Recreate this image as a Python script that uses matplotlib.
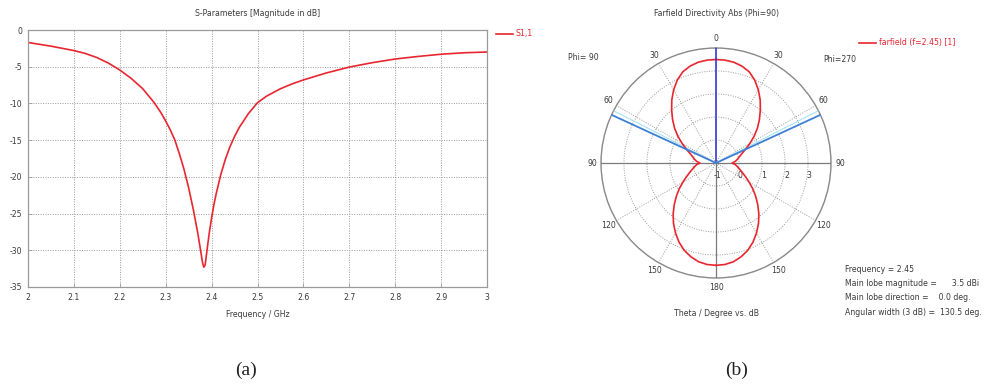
import numpy as np
import matplotlib
matplotlib.use("Agg")
import matplotlib.pyplot as plt
from matplotlib.lines import Line2D
from matplotlib.transforms import offset_copy

# S11 magnitude (dB) vs frequency (GHz)
freq_ghz = [2.00, 2.025, 2.05, 2.075, 2.10, 2.125, 2.15, 2.175, 2.20, 2.225,
            2.25, 2.275, 2.29, 2.30, 2.31, 2.32, 2.33, 2.34, 2.35, 2.36,
            2.37, 2.376, 2.38, 2.383, 2.386, 2.39, 2.395, 2.40, 2.405, 2.41,
            2.42, 2.43, 2.44, 2.45, 2.46, 2.48, 2.50, 2.52, 2.55, 2.575,
            2.60, 2.65, 2.70, 2.75, 2.80, 2.85, 2.90, 2.95, 3.00]
s11_db = [-1.7, -1.95, -2.2, -2.5, -2.8, -3.2, -3.75, -4.5, -5.45, -6.6,
          -8.0, -9.9, -11.3, -12.4, -13.6, -15.0, -16.9, -19.0, -21.5, -24.4,
          -27.7, -30.0, -31.6, -32.3, -32.0, -30.0, -27.6, -25.6, -23.8, -22.3,
          -19.7, -17.6, -15.9, -14.5, -13.3, -11.4, -9.9, -9.0, -8.0, -7.35,
          -6.8, -5.85, -5.05, -4.45, -3.95, -3.6, -3.3, -3.1, -3.0]
freq_ticks = [2, 2.1, 2.2, 2.3, 2.4, 2.5, 2.6, 2.7, 2.8, 2.9, 3]
freq_labels = ["2", "2.1", "2.2", "2.3", "2.4", "2.5", "2.6", "2.7", "2.8", "2.9", "3"]
db_ticks = [0, -5, -10, -15, -20, -25, -30, -35]

# farfield directivity cut, theta 0..180 deg (same on phi=90 and phi=270 sides)
theta_deg = [0, 5, 10, 15, 20, 25, 30, 35, 40, 45, 50, 55, 60, 65, 70, 75, 80, 85,
             90, 95, 100, 105, 110, 115, 120, 125, 130, 135, 140, 145, 150, 155,
             160, 165, 170, 175, 180]
dir_dbi = [3.50, 3.49, 3.45, 3.36, 3.22, 2.98, 2.68, 2.35, 2.00, 1.67, 1.35, 1.02,
           0.70, 0.42, 0.20, 0.05, -0.05, -0.15, -0.30, -0.15, -0.05, 0.07, 0.22,
           0.42, 0.66, 0.95, 1.25, 1.57, 1.90, 2.22, 2.52, 2.80, 3.04, 3.22, 3.36,
           3.43, 3.45]
r_ticks = [-1, 0, 1, 2, 3]
main_lobe_deg = 0.0
beam_width_deg = 130.5
theta_labels = ["0", "30", "60", "90", "120", "150", "180", "150", "120", "90", "60", "30"]

RED = "#e8262f"
GRID = "#9a9a9a"
TXT = "#3a3a3a"
FS = 5.6

fig = plt.figure(figsize=(9.92, 3.87), dpi=100)

# ---- S-parameter plot ----
ax = fig.add_axes([28 / 992, 1 - 287 / 387, 459 / 992, 257 / 387])
ax.plot(freq_ghz, s11_db, color=RED, lw=1.2)
ax.set_xlim(2, 3)
ax.set_ylim(-35, 0)
ax.set_xticks(freq_ticks)
ax.set_xticklabels(freq_labels)
ax.set_yticks(db_ticks)
ax.set_yticklabels([str(v) for v in db_ticks])
ax.grid(True, color=GRID, linestyle=(0, (1, 1.5)), lw=0.7)
for s in ax.spines.values():
    s.set_color(GRID)
    s.set_linewidth(0.9)
ax.tick_params(direction="in", length=3, width=0.6, color=GRID,
               labelsize=FS, labelcolor=TXT, pad=4)
ax.set_title("S-Parameters [Magnitude in dB]", fontsize=FS, color=TXT, pad=10)
ax.set_xlabel("Frequency / GHz", fontsize=FS, color=TXT, labelpad=6)
ax.legend([Line2D([], [], color=RED, lw=1.2)], ["S1,1"], loc="upper left",
          bbox_to_anchor=(1.005, 1.03), frameon=False, fontsize=FS,
          handlelength=2.2, handletextpad=0.3, labelcolor=RED)

# ---- farfield polar plot ----
pax = fig.add_axes([601 / 992, 1 - 278 / 387, 230 / 992, 230 / 387], projection="polar")
pax.set_theta_zero_location("N")
pax.set_theta_direction(-1)
pax.set_ylim(-1, 4)

th = np.deg2rad(theta_deg)
r = np.array(dir_dbi)
# right half = phi 270, left half = phi 90
pax.plot(th, r, color=RED, lw=1.2, zorder=5)
pax.plot(-th, r, color=RED, lw=1.2, zorder=5)

pax.set_thetagrids(np.arange(0, 360, 30), theta_labels, fontsize=FS, color=TXT)
pax.tick_params(axis="x", pad=-4)
pax.set_rgrids(r_ticks + [4], labels=[""] * 6)
pax.grid(True, color=GRID, linestyle=(0, (1, 1.5)), lw=0.7)
pax.spines["polar"].set_color("#8a8a8a")
pax.spines["polar"].set_linewidth(1.0)

# axis lines: horizontal through 90 deg and down to 180 deg
pax.plot([np.pi / 2, np.pi / 2], [-1, 4], color="#7a7a7a", lw=0.9, zorder=3)
pax.plot([-np.pi / 2, -np.pi / 2], [-1, 4], color="#7a7a7a", lw=0.9, zorder=3)
pax.plot([np.pi, np.pi], [-1, 4], color="#7a7a7a", lw=0.9, zorder=3)

# main lobe direction and 3 dB beam width markers
pax.plot([np.deg2rad(main_lobe_deg)] * 2, [-1, 4], color="#3b3bd0", lw=1.2, zorder=6)
half = np.deg2rad(beam_width_deg / 2)
for sgn in (1, -1):
    pax.plot([sgn * (half - 0.04)] * 2, [-1, 4], color="#a8e4f0", lw=0.8, zorder=4)
    pax.plot([sgn * half] * 2, [-1, 4], color="#3f7fd6", lw=1.3, zorder=6)

# radial labels under the right horizontal axis
lab_tr = offset_copy(pax.transData, fig=fig, x=1, y=-9, units="points")
for v in r_ticks:
    pax.text(np.pi / 2, v, str(v), transform=lab_tr, fontsize=FS, color=TXT,
             ha="center", va="center")

fig.text(716 / 992, 1 - 14 / 387, "Farfield Directivity Abs (Phi=90)",
         fontsize=FS, color=TXT, ha="center", va="center")
fig.text(583 / 992, 1 - 58 / 387, "Phi= 90", fontsize=FS, color=TXT,
         ha="center", va="center")
fig.text(840 / 992, 1 - 60 / 387, "Phi=270", fontsize=FS, color=TXT,
         ha="center", va="center")
fig.text(716 / 992, 1 - 313 / 387, "Theta / Degree vs. dB", fontsize=FS,
         color=TXT, ha="center", va="center")
fig.legend([Line2D([], [], color=RED, lw=1.2)], ["farfield (f=2.45) [1]"],
           loc="center left", bbox_to_anchor=(852 / 992, 1 - 43 / 387),
           frameon=False, fontsize=FS, handlelength=2.2, handletextpad=0.4,
           labelcolor=RED)

info = ["Frequency = 2.45",
        "Main lobe magnitude =      3.5 dBi",
        "Main lobe direction =    0.0 deg.",
        "Angular width (3 dB) =  130.5 deg."]
for i, line in enumerate(info):
    fig.text(845 / 992, 1 - (269 + 14.5 * i) / 387, line, fontsize=FS,
             color=TXT, ha="left", va="center")

fig.text(246 / 992, 1 - 370 / 387, "(a)", fontsize=14, family="Liberation Serif",
         ha="center", va="center", color="#222222")
fig.text(737 / 992, 1 - 370 / 387, "(b)", fontsize=14, family="Liberation Serif",
         ha="center", va="center", color="#222222")

fig.savefig("out.png", dpi=100)
